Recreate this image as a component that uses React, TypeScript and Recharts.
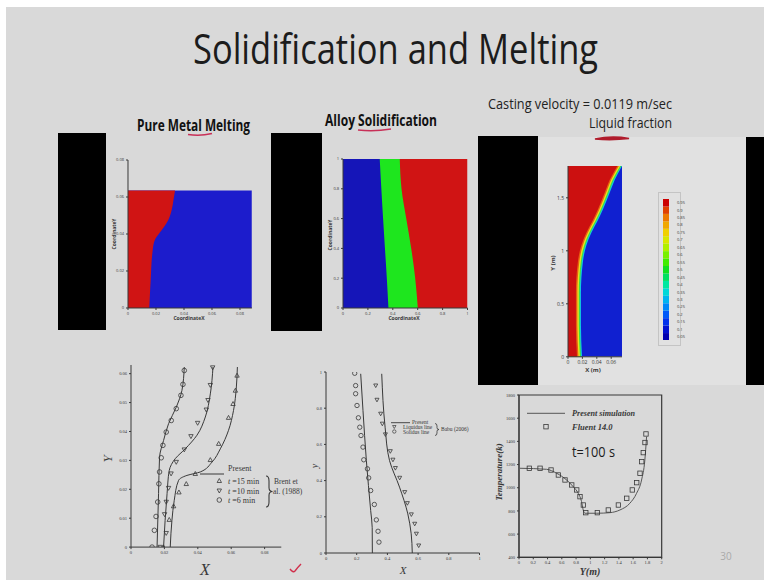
import React from 'react'
import {
  ComposedChart,
  BarChart,
  XAxis,
  YAxis,
  Area,
  Line,
  Scatter,
  Bar,
  ReferenceArea,
} from 'recharts'

// ---------- Pure Metal Melting: melt front (CoordinateX vs CoordinateY) ----------
const meltFrontY = [0, 0.015, 0.031, 0.037, 0.042, 0.0476, 0.053, 0.058, 0.0635]
const meltFrontX = [0.0152, 0.0162, 0.0176, 0.0193, 0.024, 0.0288, 0.0312, 0.0324, 0.0336]
const meltCavityY = [0, 0.0635]
const meltCavityX = [0.0884, 0.0884]
const meltTicks = [0, 0.02, 0.04, 0.06, 0.08]

// ---------- Alloy Solidification: solidus / liquidus fronts ----------
const alloyY = [0, 0.2, 0.4, 0.6, 0.8, 1]
const alloySolidX = [0.365, 0.352, 0.337, 0.322, 0.308, 0.295]
const alloyLiquidX = [0.601, 0.58, 0.548, 0.508, 0.47, 0.456]
const alloyEdgeX = [1, 1, 1, 1, 1, 1]
const unitTicks = [0, 0.2, 0.4, 0.6, 0.8, 1]

// ---------- Casting: liquid fraction contour bands ----------
const castY = [0, 0.3, 0.6, 0.9, 1.05, 1.17, 1.28, 1.39, 1.54, 1.67, 1.8]
const castCyanX = [0.0195, 0.018, 0.018, 0.0208, 0.0255, 0.0325, 0.041, 0.0485, 0.0575, 0.065, 0.075]
const castGreenX = [0.018, 0.0165, 0.0165, 0.0193, 0.024, 0.031, 0.0395, 0.047, 0.056, 0.0635, 0.074]
const castYellowX = [0.0165, 0.015, 0.015, 0.0178, 0.0225, 0.0295, 0.038, 0.0455, 0.0545, 0.062, 0.0725]
const castOrangeX = [0.0145, 0.013, 0.013, 0.0158, 0.0205, 0.0275, 0.036, 0.0435, 0.0525, 0.06, 0.0705]
const castRedX = [0.0125, 0.011, 0.011, 0.0138, 0.0185, 0.0255, 0.034, 0.0415, 0.0505, 0.058, 0.0685]
const castEdgeY = [0, 1.8]
const castEdgeX = [0.075, 0.075]
const castTicksX = [0, 0.02, 0.04, 0.06]
const castTicksY = [0, 0.5, 1, 1.5]
const fractionLevels = [
  '0.05', '0.1', '0.15', '0.2', '0.25', '0.3', '0.35', '0.4', '0.45', '0.5',
  '0.55', '0.6', '0.65', '0.7', '0.75', '0.8', '0.85', '0.9', '0.95',
]
const fractionColors = [
  '#0000b0', '#0010d0', '#0030ec', '#0058f8', '#0088f8', '#00b4f0', '#00d8d8', '#00e8a0', '#00e060', '#10e020',
  '#40ec00', '#78f000', '#b0f000', '#d8e800', '#f0d000', '#f0a800', '#ec7800', '#e04000', '#cc0000',
]

// ---------- Brent et al. (1988): melt front at t = 6, 10, 15 min ----------
const brent6LineY = [0, 0.0185, 0.0311, 0.0369, 0.0427, 0.0484, 0.0542, 0.0623]
const brent6LineX = [0.0156, 0.0165, 0.0171, 0.0195, 0.0225, 0.0271, 0.0305, 0.0319]
const brent10LineY = [0, 0.0185, 0.0265, 0.0306, 0.034, 0.0387, 0.045, 0.053, 0.0623]
const brent10LineX = [0.0195, 0.0216, 0.0229, 0.0265, 0.0325, 0.0395, 0.0445, 0.0475, 0.0491]
const brent15LineY = [0, 0.0092, 0.0162, 0.0231, 0.0248, 0.026, 0.0294, 0.034, 0.0404, 0.0473, 0.0554, 0.0623]
const brent15LineX = [0.0235, 0.0245, 0.0259, 0.0285, 0.0335, 0.0415, 0.0485, 0.0535, 0.0584, 0.0614, 0.0631, 0.0637]
const brent6ExpY = [0, 0.0058, 0.0106, 0.0156, 0.0219, 0.026, 0.0309, 0.0352, 0.0398, 0.0438, 0.0479, 0.0525, 0.0563, 0.0611]
const brent6ExpX = [0.0126, 0.014, 0.015, 0.016, 0.0167, 0.0171, 0.0181, 0.0191, 0.0211, 0.0241, 0.0271, 0.0299, 0.0311, 0.0319]
const brent10ExpY = [0, 0.0048, 0.0113, 0.0156, 0.0204, 0.0254, 0.0294, 0.0337, 0.0383, 0.0429, 0.0475, 0.0508, 0.056, 0.0621]
const brent10ExpX = [0.0175, 0.0211, 0.0201, 0.0211, 0.0225, 0.024, 0.0271, 0.0319, 0.0359, 0.0399, 0.0451, 0.0461, 0.0475, 0.0489]
const brent15ExpY = [0, 0.0095, 0.0142, 0.019, 0.0219, 0.0254, 0.0302, 0.0358, 0.0448, 0.0496, 0.0542, 0.0594]
const brent15ExpX = [0.0195, 0.0229, 0.0255, 0.0287, 0.0331, 0.0385, 0.0475, 0.0525, 0.0584, 0.0611, 0.0625, 0.0635]
const brentTicksX = [0, 0.02, 0.04, 0.06, 0.08]
const brentTicksY = [0, 0.01, 0.02, 0.03, 0.04, 0.05, 0.06]

// ---------- Babu (2006): liquidus and solidus lines ----------
const babuSolidLineY = [0, 0.14, 0.235, 0.51, 0.787, 0.99]
const babuSolidLineX = [0.302, 0.301, 0.291, 0.263, 0.241, 0.226]
const babuLiquidLineY = [0, 0.106, 0.216, 0.364, 0.51, 0.695, 0.99]
const babuLiquidLineX = [0.562, 0.555, 0.533, 0.479, 0.414, 0.385, 0.363]
const babuSolidExpY = [0.993, 0.925, 0.88, 0.815, 0.747, 0.695, 0.649, 0.585, 0.515, 0.465, 0.415, 0.345, 0.268, 0.183, 0.12, 0.06]
const babuSolidExpX = [0.187, 0.193, 0.193, 0.202, 0.211, 0.22, 0.228, 0.241, 0.246, 0.27, 0.278, 0.291, 0.315, 0.328, 0.339, 0.345]
const babuLiquidExpY = [0.925, 0.846, 0.769, 0.714, 0.655, 0.562, 0.515, 0.469, 0.415, 0.336, 0.275, 0.213, 0.161, 0.106, 0.041]
const babuLiquidExpX = [0.324, 0.332, 0.356, 0.367, 0.387, 0.419, 0.436, 0.452, 0.48, 0.513, 0.53, 0.556, 0.578, 0.589, 0.604]

// ---------- Temperature along Y at t = 100 s ----------
const tempSimY = [0.014, 0.387, 0.527, 0.667, 0.76, 0.83, 0.877, 0.9, 0.924, 1.088, 1.274, 1.414, 1.554, 1.648, 1.718, 1.764, 1.788]
const tempSimT = [1168, 1159, 1125, 1067, 1009, 952, 880, 808, 780, 780, 785, 808, 866, 952, 1067, 1239, 1440]
const tempFluentY = [0.145, 0.295, 0.449, 0.552, 0.645, 0.739, 0.809, 0.855, 0.902, 0.936, 1.098, 1.252, 1.393, 1.51, 1.588, 1.65, 1.696, 1.72, 1.742, 1.766, 1.78]
const tempFluentT = [1168, 1168, 1153, 1110, 1067, 1024, 981, 923, 851, 785, 785, 808, 851, 909, 981, 1044, 1125, 1225, 1303, 1390, 1464]
const tempTicksX = [0, 0.2, 0.4, 0.6, 0.8, 1, 1.2, 1.4, 1.6, 1.8, 2]
const tempTicksT = [400, 600, 800, 1000, 1200, 1400, 1600, 1800]

const INK = '#383838'
const SERIF = '"Liberation Serif", serif'
const SANS = '"Open Sans", sans-serif'
const BLUE = '#1c1ccc'
const RED = '#d01414'
const GREEN = '#1ee61e'

const pts = (ys: number[], xs: number[]) => ys.map((y, i) => ({ y, x: xs[i] }))
const tpts = (xs: number[], ts: number[]) => xs.map((x, i) => ({ x, t: ts[i] }))

type Box = { L: number; T: number; R: number; B: number }

function Plot({ box, yw, xh, mt = 4, mr = 6, vertical = false, children }: {
  box: Box; yw: number; xh: number; mt?: number; mr?: number; vertical?: boolean; children: React.ReactNode
}) {
  const width = box.R - box.L + yw + mr
  const height = box.B - box.T + mt + xh
  return (
    <div style={{ position: 'absolute', left: box.L - yw, top: box.T - mt }}>
      <ComposedChart
        width={width}
        height={height}
        layout={vertical ? 'vertical' : 'horizontal'}
        margin={{ top: mt, right: mr, bottom: 0, left: 0 }}
      >
        {children}
      </ComposedChart>
    </div>
  )
}

const axisStyle = (size: number, family: string) => ({
  tick: { fontSize: size, fill: INK, fontFamily: family },
  tickSize: 2,
  stroke: INK,
  interval: 0 as const,
  allowDataOverflow: true,
})

const circle = (r: number) => (p: any) => (
  <circle cx={p.cx} cy={p.cy} r={r} fill="none" stroke={INK} strokeWidth={0.8} />
)
const triUp = (s: number) => (p: any) => (
  <path d={`M${p.cx},${p.cy - s}L${p.cx + s},${p.cy + s * 0.8}L${p.cx - s},${p.cy + s * 0.8}Z`} fill="none" stroke={INK} strokeWidth={0.8} />
)
const triDown = (s: number) => (p: any) => (
  <path d={`M${p.cx},${p.cy + s}L${p.cx + s},${p.cy - s * 0.8}L${p.cx - s},${p.cy - s * 0.8}Z`} fill="none" stroke={INK} strokeWidth={0.8} />
)
const square = (s: number) => (p: any) => (
  <rect x={p.cx - s} y={p.cy - s} width={s * 2} height={s * 2} fill="none" stroke={INK} strokeWidth={0.8} />
)

const band = (ys: number[], xs: number[], fill: string, type: 'monotone' | 'linear' = 'monotone') => (
  <Area data={pts(ys, xs)} dataKey="x" type={type} fill={fill} fillOpacity={1} stroke="none" isAnimationActive={false} />
)

function Slide() {
  const colorRow: Record<string, number | string> = { name: 'f' }
  fractionLevels.forEach((_, i) => { colorRow[`s${i}`] = 1 })

  return (
    <div style={{ position: 'absolute', left: 0, top: 0, width: 764, height: 580, background: '#ffffff', overflow: 'hidden' }}>
      <div style={{ position: 'absolute', left: 6, top: 7, width: 758, height: 573, background: '#d9d9d9' }} />
      <div style={{ position: 'absolute', left: 538, top: 137, width: 208, height: 248, background: '#e1e1e1' }} />
      <div style={{ position: 'absolute', left: 58, top: 133, width: 48, height: 197, background: '#000' }} />
      <div style={{ position: 'absolute', left: 271, top: 133, width: 51, height: 198, background: '#000' }} />
      <div style={{ position: 'absolute', left: 478, top: 136, width: 60, height: 249, background: '#000' }} />
      <div style={{ position: 'absolute', left: 746, top: 137, width: 18, height: 248, background: '#000' }} />
      <div style={{ position: 'absolute', left: 658, top: 192, width: 23, height: 154, border: '1px solid #c4c4c4', boxSizing: 'border-box' }} />

      {/* Pure metal melting */}
      <Plot box={{ L: 128, T: 160, R: 251.9, B: 308 }} yw={20} xh={12} vertical>
        <XAxis type="number" dataKey="x" domain={[0, 0.0885]} ticks={meltTicks} height={12} {...axisStyle(4, SANS)} />
        <YAxis type="number" dataKey="y" domain={[0, 0.08]} ticks={meltTicks} width={20} reversed {...axisStyle(4, SANS)} />
        {band(meltCavityY, meltCavityX, BLUE, 'linear')}
        {band(meltFrontY, meltFrontX, RED)}
      </Plot>

      {/* Alloy solidification */}
      <Plot box={{ L: 342.5, T: 159, R: 467, B: 308 }} yw={20} xh={12} vertical>
        <XAxis type="number" dataKey="x" domain={[0, 1]} ticks={unitTicks} height={12} {...axisStyle(4, SANS)} />
        <YAxis type="number" dataKey="y" domain={[0, 1]} ticks={unitTicks} width={20} reversed {...axisStyle(4, SANS)} />
        {band(alloyY, alloyEdgeX, RED, 'linear')}
        {band(alloyY, alloyLiquidX, GREEN)}
        {band(alloyY, alloySolidX, '#1515b8')}
      </Plot>

      {/* Casting liquid fraction */}
      <Plot box={{ L: 567.8, T: 165.9, R: 621.8, B: 356.7 }} yw={20} xh={12} vertical>
        <XAxis type="number" dataKey="x" domain={[0, 0.075]} ticks={castTicksX} height={12} {...axisStyle(5, SANS)} />
        <YAxis type="number" dataKey="y" domain={[0, 1.8]} ticks={castTicksY} width={20} reversed {...axisStyle(5, SANS)} />
        {band(castEdgeY, castEdgeX, '#1020d0', 'linear')}
        {band(castY, castCyanX, '#10c8e0')}
        {band(castY, castGreenX, '#40e040')}
        {band(castY, castYellowX, '#e8e020')}
        {band(castY, castOrangeX, '#e86010')}
        {band(castY, castRedX, '#cc1010')}
      </Plot>

      {/* Colour bar */}
      <div style={{ position: 'absolute', left: 663, top: 198.5 }}>
        <BarChart width={24} height={141.5} data={[colorRow]} barCategoryGap={0} margin={{ top: 0, right: 0, bottom: 0, left: 0 }}>
          <XAxis dataKey="name" hide />
          <YAxis
            orientation="right"
            type="number"
            domain={[0, fractionLevels.length]}
            ticks={fractionLevels.map((_, i) => i + 0.5)}
            tickFormatter={(v: number) => fractionLevels[Math.floor(v)]}
            width={18}
            axisLine={false}
            tickLine={false}
            tick={{ fontSize: 4, fill: INK, fontFamily: SANS }}
            interval={0}
          />
          {fractionLevels.map((_, i) => (
            <Bar key={i} dataKey={`s${i}`} stackId="c" fill={fractionColors[i]} isAnimationActive={false} />
          ))}
        </BarChart>
      </div>

      {/* Brent et al. melting fronts */}
      <Plot box={{ L: 130.7, T: 364.6, R: 281, B: 546.7 }} yw={24} xh={14} vertical>
        <XAxis type="number" dataKey="x" domain={[0, 0.09]} ticks={brentTicksX} height={14} {...axisStyle(4.5, SERIF)} />
        <YAxis type="number" dataKey="y" domain={[0, 0.063]} ticks={brentTicksY} width={24} reversed {...axisStyle(4.5, SERIF)} />
        <Line data={pts(brent6LineY, brent6LineX)} dataKey="x" type="monotone" stroke={INK} strokeWidth={1} dot={false} isAnimationActive={false} />
        <Line data={pts(brent10LineY, brent10LineX)} dataKey="x" type="monotone" stroke={INK} strokeWidth={1} dot={false} isAnimationActive={false} />
        <Line data={pts(brent15LineY, brent15LineX)} dataKey="x" type="monotone" stroke={INK} strokeWidth={1} dot={false} isAnimationActive={false} />
        <Scatter data={pts(brent6ExpY, brent6ExpX)} shape={circle(2.3)} isAnimationActive={false} />
        <Scatter data={pts(brent10ExpY, brent10ExpX)} shape={triDown(2.2)} isAnimationActive={false} />
        <Scatter data={pts(brent15ExpY, brent15ExpX)} shape={triUp(2.2)} isAnimationActive={false} />
      </Plot>

      {/* Babu liquidus / solidus */}
      <Plot box={{ L: 326.3, T: 371.5, R: 479.8, B: 552.5 }} yw={22} xh={14} vertical>
        <XAxis type="number" dataKey="x" domain={[0, 1]} ticks={unitTicks} height={14} {...axisStyle(4.5, SERIF)} />
        <YAxis type="number" dataKey="y" domain={[0, 1]} ticks={unitTicks} width={22} reversed {...axisStyle(4.5, SERIF)} />
        <Line data={pts(babuSolidLineY, babuSolidLineX)} dataKey="x" type="monotone" stroke={INK} strokeWidth={1} dot={false} isAnimationActive={false} />
        <Line data={pts(babuLiquidLineY, babuLiquidLineX)} dataKey="x" type="monotone" stroke={INK} strokeWidth={1} dot={false} isAnimationActive={false} />
        <Scatter data={pts(babuSolidExpY, babuSolidExpX)} shape={circle(2.2)} isAnimationActive={false} />
        <Scatter data={pts(babuLiquidExpY, babuLiquidExpX)} shape={triDown(2)} isAnimationActive={false} />
      </Plot>

      {/* Temperature */}
      <Plot box={{ L: 519, T: 395, R: 661.7, B: 557.3 }} yw={20} xh={12}>
        <XAxis type="number" dataKey="x" domain={[0, 2]} ticks={tempTicksX} height={12} {...axisStyle(4.5, SERIF)} />
        <YAxis type="number" dataKey="t" domain={[400, 1800]} ticks={tempTicksT} width={20} {...axisStyle(4.5, SERIF)} />
        <ReferenceArea x1={0} x2={2} y1={400} y2={1800} fill="none" stroke={INK} strokeWidth={1.2} />
        <Line data={tpts(tempSimY, tempSimT)} dataKey="t" type="monotone" stroke="#555" strokeWidth={1} dot={false} isAnimationActive={false} />
        <Scatter data={tpts(tempFluentY, tempFluentT)} shape={square(2.2)} isAnimationActive={false} />
      </Plot>

      <svg width={764} height={580} style={{ position: 'absolute', left: 0, top: 0, pointerEvents: 'none' }}>
        <text x={193} y={63.5} fontSize={42} fontFamily={SANS} fill="#1c1c1c" textLength={405} lengthAdjust="spacingAndGlyphs">Solidification and Melting</text>
        <text x={137} y={131} fontSize={15.5} fontWeight={700} fontFamily={SANS} fill="#111" textLength={113} lengthAdjust="spacingAndGlyphs">Pure Metal Melting</text>
        <text x={325} y={126} fontSize={15.5} fontWeight={700} fontFamily={SANS} fill="#111" textLength={112} lengthAdjust="spacingAndGlyphs">Alloy Solidification</text>
        <text x={488} y={108.5} fontSize={15} fontFamily={SANS} fill="#222" textLength={184} lengthAdjust="spacingAndGlyphs">Casting velocity = 0.0119 m/sec</text>
        <text x={589} y={127.5} fontSize={15} fontFamily={SANS} fill="#222" textLength={83} lengthAdjust="spacingAndGlyphs">Liquid fraction</text>
        <path d="M188,134.5 Q200,136.5 212,133.5" stroke="#c83058" strokeWidth={1.4} fill="none" />
        <path d="M358,130 Q374,132 391,129" stroke="#c83058" strokeWidth={1.4} fill="none" />
        <path d="M595,139 Q612,135.5 629,138.5 Q612,140.5 595,139Z" stroke="#b01c2c" strokeWidth={1.6} fill="#b01c2c" />

        {/* contour axis labels */}
        <text x={189} y={320} fontSize={5} fontWeight={700} fontFamily={SANS} fill={INK} textAnchor="middle">CoordinateX</text>
        <text x={0} y={0} fontSize={5} fontWeight={700} fontFamily={SANS} fill={INK} textAnchor="middle" transform="translate(116,234) rotate(-90)">CoordinateY</text>
        <text x={404} y={320} fontSize={5} fontWeight={700} fontFamily={SANS} fill={INK} textAnchor="middle">CoordinateX</text>
        <text x={0} y={0} fontSize={5} fontWeight={700} fontFamily={SANS} fill={INK} textAnchor="middle" transform="translate(332,235) rotate(-90)">CoordinateY</text>
        <text x={593} y={372} fontSize={6} fontWeight={700} fontFamily={SANS} fill={INK} textAnchor="middle">X (m)</text>
        <text x={0} y={0} fontSize={6} fontWeight={700} fontFamily={SANS} fill={INK} textAnchor="middle" transform="translate(555,263) rotate(-90)">Y (m)</text>

        {/* Brent legend */}
        <line x1={200} y1={474} x2={224} y2={474} stroke={INK} strokeWidth={1} />
        <text x={228} y={471} fontSize={8} fontFamily={SERIF} fill={INK}>Present</text>
        <path d="M219.3,478.5L221.5,482.5L217.1,482.5Z" fill="none" stroke={INK} strokeWidth={0.8} />
        <text x={228} y={483.5} fontSize={8} fontFamily={SERIF} fill={INK}><tspan fontStyle="italic">t</tspan> =15 min</text>
        <path d="M219.3,493L221.5,489L217.1,489Z" fill="none" stroke={INK} strokeWidth={0.8} />
        <text x={228} y={493.5} fontSize={8} fontFamily={SERIF} fill={INK}><tspan fontStyle="italic">t</tspan> =10 min</text>
        <circle cx={219.3} cy={500} r={2.3} fill="none" stroke={INK} strokeWidth={0.8} />
        <text x={228} y={503} fontSize={8} fontFamily={SERIF} fill={INK}><tspan fontStyle="italic">t</tspan> =6 min</text>
        <path d="M266,476 Q269,476 269,481 L269,487.5 Q269,491.5 272.5,491.5 Q269,491.5 269,495.5 L269,502 Q269,507 266,507" fill="none" stroke={INK} strokeWidth={1.1} />
        <text x={274} y={484} fontSize={7.5} fontFamily={SERIF} fill={INK}>Brent et</text>
        <text x={273} y={494} fontSize={7.5} fontFamily={SERIF} fill={INK}>al. (1988)</text>
        <text x={205} y={575} fontSize={16} fontStyle="italic" fontFamily={SERIF} fill={INK} textAnchor="middle">X</text>
        <text x={0} y={0} fontSize={13} fontStyle="italic" fontFamily={SERIF} fill={INK} textAnchor="middle" transform="translate(112,459) rotate(-90)">Y</text>

        {/* Babu legend */}
        <line x1={391} y1={422.7} x2={410} y2={422.7} stroke={INK} strokeWidth={0.9} />
        <text x={412} y={423.5} fontSize={5.5} fontFamily={SERIF} fill={INK}>Present</text>
        <path d="M394.3,428.5L396,425.5L392.6,425.5Z" fill="none" stroke={INK} strokeWidth={0.7} />
        <text x={403} y={428.8} fontSize={5.5} fontFamily={SERIF} fill={INK}>Liquidus line</text>
        <circle cx={394.3} cy={431.5} r={1.7} fill="none" stroke={INK} strokeWidth={0.7} />
        <text x={403} y={433.5} fontSize={5.5} fontFamily={SERIF} fill={INK}>Solidus line</text>
        <path d="M435,423.5 Q437,423.5 437,426 L437,427.8 Q437,429.5 439,429.5 Q437,429.5 437,431.2 L437,433 Q437,435.5 435,435.5" fill="none" stroke={INK} strokeWidth={0.8} />
        <text x={441} y={430.5} fontSize={5.5} fontFamily={SERIF} fill={INK}>Babu (2006)</text>
        <text x={403} y={574} fontSize={11} fontStyle="italic" fontFamily={SERIF} fill={INK} textAnchor="middle">X</text>
        <text x={0} y={0} fontSize={10} fontStyle="italic" fontFamily={SERIF} fill={INK} textAnchor="middle" transform="translate(318,466) rotate(-90)">y</text>

        {/* Temperature legend */}
        <line x1={527} y1={413.3} x2={565} y2={413.3} stroke="#555" strokeWidth={1} />
        <text x={572} y={416} fontSize={8.5} fontStyle="italic" fontWeight={700} fontFamily={SERIF} fill={INK} textLength={63} lengthAdjust="spacingAndGlyphs">Present simulation</text>
        <rect x={543.8} y={424.5} width={4.4} height={4.4} fill="none" stroke={INK} strokeWidth={0.8} />
        <text x={572} y={430} fontSize={8.5} fontStyle="italic" fontWeight={700} fontFamily={SERIF} fill={INK}>Fluent 14.0</text>
        <text x={572} y={457} fontSize={15} fontFamily={SANS} fill="#1c1c1c" textLength={43} lengthAdjust="spacingAndGlyphs">t=100 s</text>
        <text x={0} y={0} fontSize={9} fontStyle="italic" fontWeight={700} fontFamily={SERIF} fill={INK} textAnchor="middle" transform="translate(502,472) rotate(-90)">Temperature(k)</text>
        <text x={590} y={575} fontSize={10} fontStyle="italic" fontWeight={700} fontFamily={SERIF} fill={INK} textAnchor="middle">Y(m)</text>

        <path d="M290,569 Q293,573 295,571 Q298,567 301,564" stroke="#d0304c" strokeWidth={1.4} fill="none" />
        <text x={726} y={560} fontSize={10} fontFamily={SANS} fill="#aaaaaa" textAnchor="middle">30</text>
      </svg>
    </div>
  )
}

export default function App() {
  return <Slide />
}
